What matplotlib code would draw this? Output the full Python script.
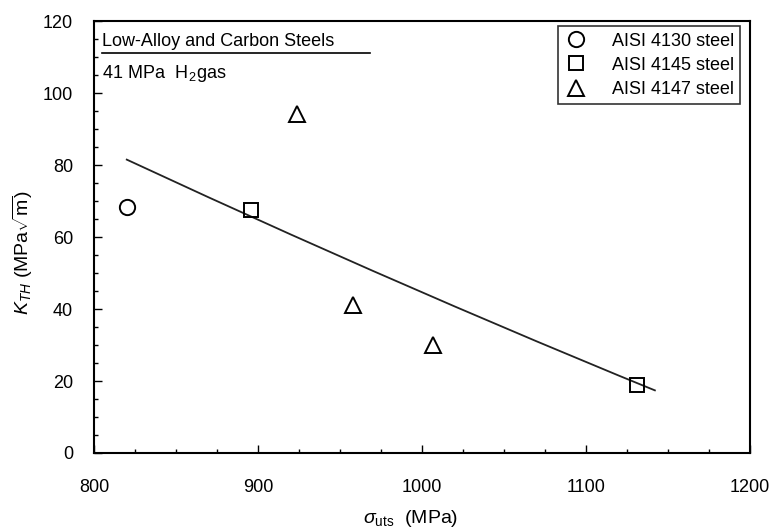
import matplotlib
matplotlib.use("Agg")
import matplotlib.pyplot as plt
import numpy as np
from matplotlib.ticker import MultipleLocator

plt.rcParams['font.family'] = ['Liberation Sans', 'DejaVu Sans']
plt.rcParams['mathtext.fontset'] = 'custom'
plt.rcParams['mathtext.rm'] = 'Liberation Sans'
plt.rcParams['mathtext.it'] = 'Liberation Sans:italic'
plt.rcParams['mathtext.sf'] = 'Liberation Sans'

# data
uts_4130 = [820]
kth_4130 = [68.4]
uts_4145 = [896, 1131]
kth_4145 = [67.5, 18.8]
uts_4147 = [924, 958, 1007]
kth_4147 = [94.2, 41.2, 30.0]

# trend curve drawn in the figure
fit_uts = [820, 870, 920, 970, 1020, 1070, 1120, 1142]
fit_kth = [81.5, 71.0, 60.7, 50.6, 40.7, 31.0, 21.5, 17.4]

fig = plt.figure(figsize=(7.69, 5.32), dpi=100)
ax = fig.add_axes([0.1222, 0.1485, 0.8531, 0.812])

ax.plot(fit_uts, fit_kth, color='#222222', lw=1.3)
ax.plot(uts_4130, kth_4130, 'o', mfc='white', mec='black', mew=1.4, ms=11, ls='none', label='AISI 4130 steel')
ax.plot(uts_4145, kth_4145, 's', mfc='none', mec='black', mew=1.4, ms=10, ls='none', label='AISI 4145 steel')
ax.plot(uts_4147, kth_4147, '^', mfc='white', mec='black', mew=1.4, ms=11, ls='none', label='AISI 4147 steel')

ax.set_xlim(800, 1200)
ax.set_ylim(0, 120)
ax.xaxis.set_major_locator(MultipleLocator(100))
ax.xaxis.set_minor_locator(MultipleLocator(25))
ax.yaxis.set_major_locator(MultipleLocator(20))
ax.yaxis.set_minor_locator(MultipleLocator(5))
ax.tick_params(which='both', direction='in', labelsize=13, top=False, right=False)
ax.tick_params(which='major', length=6, width=1.0)
ax.tick_params(which='minor', length=3, width=1.0)
ax.tick_params(axis='x', which='major', pad=19)
ax.tick_params(axis='y', which='major', pad=15)
for s in ax.spines.values():
    s.set_linewidth(1.5)

ax.set_xlabel(r'$\sigma_{\rm uts}$  (MPa)', fontsize=14)
ax.set_ylabel(r'$K_{TH}$ (MPa$\sqrt{\rm m}$)', fontsize=14)
ax.xaxis.set_label_coords(0.483, -0.128)
ax.yaxis.set_label_coords(-0.09, 0.465)

leg = ax.legend(loc='upper right', fontsize=13, frameon=True, fancybox=False,
                edgecolor='black', handletextpad=1.3, borderpad=0.35,
                labelspacing=0.4, handlelength=1.3,
                bbox_to_anchor=(0.985, 0.988), borderaxespad=0)
leg.get_frame().set_linewidth(1.2)

ax.text(0.012, 0.942, 'Low-Alloy and Carbon Steels', transform=ax.transAxes,
        fontsize=13, va='baseline')
ax.plot([0.012, 0.421], [0.926, 0.926], transform=ax.transAxes, color='black',
        lw=1.2, clip_on=False)
ax.text(0.012, 0.868, r'41 MPa  H$_{\,2}$gas', transform=ax.transAxes,
        fontsize=13, va='baseline')

fig.savefig('out.png', dpi=100)
